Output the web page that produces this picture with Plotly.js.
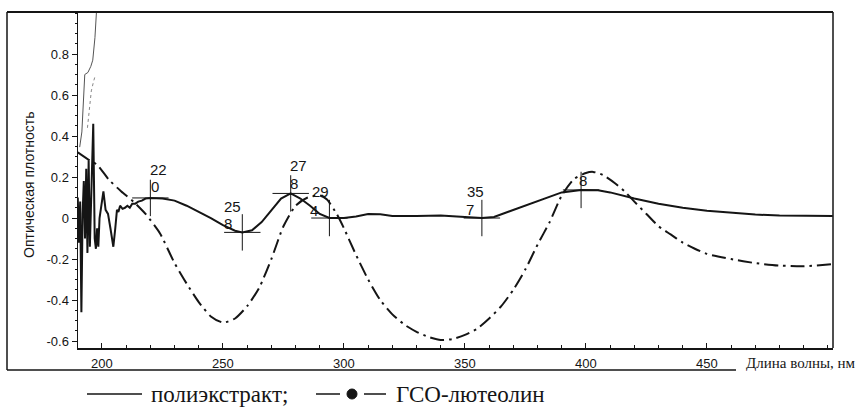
<!DOCTYPE html>
<html>
<head>
<meta charset="utf-8">
<script src="https://cdn.plot.ly/plotly-3.0.1.min.js"></script>
<style>
  html, body { margin: 0; padding: 0; background: #fff; }
  #chart { width: 861px; height: 410px; }
</style>
</head>
<body>
<div id="chart"></div>
<script>
// Differential spectrum of the polyextract (wavelength, nm / optical density)
const extractWl = [190, 190.5, 191, 191.5, 192, 192.5, 193, 193.5, 194, 194.5, 195, 195.5, 196, 196.4, 197, 197.5,
  198, 198.5, 199, 200, 200.6, 201.5, 202.5, 203.5, 204.2, 204.7, 205.5, 206.2, 206.8, 207.5, 208.5, 209.5, 210.5,
  211.5, 212.5, 213.8, 215, 216.5, 218, 220, 225, 230, 235, 240, 245, 250, 255, 258, 262, 266, 270, 274, 278, 282,
  286, 290, 294, 300, 305, 310, 315, 320, 330, 340, 350, 357, 362, 370, 380, 390, 398, 405, 410, 420, 430, 440,
  450, 460, 470, 480, 490, 502];
const extractOd = [0.10, -0.12, 0.08, -0.46, 0.02, 0.18, -0.10, 0.24, -0.17, 0.28, -0.14, 0.10, 0.40, 0.46, -0.10, -0.15,
  -0.05, -0.14, 0.0, 0.09, 0.13, 0.04, 0.02, -0.05, -0.10, -0.14, -0.05, 0.04, 0.03, 0.06, 0.045, 0.05, 0.06,
  0.05, 0.07, 0.07, 0.08, 0.085, 0.095, 0.098, 0.095, 0.085, 0.06, 0.03, 0.0, -0.035, -0.062, -0.07, -0.06, -0.02,
  0.04, 0.095, 0.12, 0.095, 0.06, 0.02, 0.0, 0.0, 0.008, 0.02, 0.018, 0.01, 0.01, 0.012, 0.005, 0.0, 0.005, 0.04,
  0.085, 0.125, 0.137, 0.135, 0.125, 0.095, 0.07, 0.05, 0.035, 0.025, 0.017, 0.012, 0.01, 0.01];

// Reference standard (ГСО-лютеолин)
const luteolinWl = [190, 195, 198, 203, 208, 213, 218, 224, 230, 235, 240, 245, 250, 255, 260, 265, 270, 275, 280,
  285, 290, 293, 297, 300, 305, 310, 315, 320, 325, 330, 335, 340, 345, 350, 355, 360, 365, 370, 375, 380, 385,
  390, 395, 400, 403, 407, 412, 416, 420, 425, 430, 435, 440, 445, 450, 460, 470, 480, 490, 502];
const luteolinOd = [0.32, 0.28, 0.26, 0.185, 0.13, 0.08, 0.02, -0.075, -0.22, -0.32, -0.41, -0.48, -0.51, -0.49,
  -0.43, -0.34, -0.20, -0.04, 0.06, 0.10, 0.11, 0.09, 0.02, -0.05, -0.18, -0.30, -0.40, -0.47, -0.52, -0.555, -0.58,
  -0.595, -0.59, -0.57, -0.54, -0.49, -0.43, -0.35, -0.25, -0.13, -0.02, 0.11, 0.19, 0.22, 0.225, 0.21, 0.17, 0.13,
  0.08, 0.02, -0.04, -0.08, -0.12, -0.15, -0.175, -0.20, -0.22, -0.232, -0.235, -0.225];

// Far-UV overflow of the recorder trace
const overflowWl = [190.8, 191.7, 192.9, 194.2, 195.4, 196.2, 197.1, 197.8];
const overflowOd = [0.346, 0.42, 0.70, 0.71, 0.74, 0.77, 0.88, 1.02];
const overflow2Wl = [194.0, 194.8, 195.6, 196.4, 197.1];
const overflow2Od = [0.44, 0.55, 0.62, 0.66, 0.69];

// Labelled extrema of the polyextract curve
const peakWl = [220, 258, 278, 294, 357, 398];
const peakOd = [0.098, -0.07, 0.12, 0.0, 0.0, 0.137];
const peakTop = ['22', '25', '27', '29', '35', ''];
const peakBottom = ['0', '8', '8', '4', '7', '8'];

// Axis ticks
const xTicks = [200, 250, 300, 350, 400, 450];
const xTickText = ['200', '250', '300', '350', '400', '450'];
const yTicks = [-0.6, -0.4, -0.2, 0, 0.2, 0.4, 0.6, 0.8];
const yTickText = ['-0.6', '-0.4', '-0.2', '0', '0.2', '0.4', '0.6', '0.8'];

const seriesNames = ['полиэкстракт;', 'ГСО-лютеолин'];
const yTitle = 'Оптическая плотность';
const xTitle = 'Длина волны, нм';

// ---- geometry helpers (pixel -> paper) ----
const W = 861, H = 410;
const M = { l: 78, r: 28, t: 12, b: 62 };
const PW = W - M.l - M.r, PH = H - M.t - M.b;
const px = v => (v - M.l) / PW;
const py = v => (H - M.b - v) / PH;

const INK = '#151515';
const sans = 'Liberation Sans, Arial, sans-serif';
const serif = 'Liberation Serif, Times New Roman, serif';

// label offsets (pixels) relative to each cross mark
const topShift = [[8, 28], [-10, 26], [8, 28], [-9, 27], [-6, 27], [0, 0]];
const bottomShift = [[5, 11], [-14, 9], [3, 10], [-15, 8], [-12, 9], [2, 9]];

const traces = [
  { x: overflowWl, y: overflowOd, mode: 'lines', line: { color: '#555', width: 1 }, hoverinfo: 'skip', showlegend: false },
  { x: overflow2Wl, y: overflow2Od, mode: 'lines', line: { color: '#888', width: 1, dash: 'dot' }, hoverinfo: 'skip', showlegend: false },
  { x: luteolinWl, y: luteolinOd, mode: 'lines', name: seriesNames[1],
    line: { color: INK, width: 2, dash: '14px,5px,2.5px,5px', shape: 'spline', smoothing: 0.6 }, showlegend: false },
  { x: extractWl, y: extractOd, mode: 'lines', name: seriesNames[0],
    line: { color: INK, width: 2 }, showlegend: false },
  { x: peakWl, y: peakOd, mode: 'markers', hoverinfo: 'skip', showlegend: false,
    marker: { symbol: 'cross-thin', size: 26, color: INK, line: { color: INK, width: 1 } } }
];

const annotations = [];
peakWl.forEach((wl, i) => {
  if (peakTop[i]) {
    annotations.push({ x: wl, y: peakOd[i], xref: 'x', yref: 'y', text: peakTop[i], showarrow: false,
      xshift: topShift[i][0], yshift: topShift[i][1], font: { family: sans, size: 15, color: INK } });
  }
  annotations.push({ x: wl, y: peakOd[i], xref: 'x', yref: 'y', text: peakBottom[i], showarrow: false,
    xshift: bottomShift[i][0], yshift: bottomShift[i][1], font: { family: sans, size: 15, color: INK } });
});

annotations.push(
  { xref: 'paper', yref: 'paper', x: px(29), y: py(185), xanchor: 'center', yanchor: 'middle',
    text: yTitle, textangle: -90, showarrow: false, font: { family: sans, size: 14, color: INK } },
  { xref: 'paper', yref: 'paper', x: px(744), y: py(363), xanchor: 'left', yanchor: 'middle',
    text: xTitle, showarrow: false, font: { family: serif, size: 15, color: INK } },
  { xref: 'paper', yref: 'paper', x: px(150), y: py(394), xanchor: 'left', yanchor: 'middle', borderpad: 0,
    text: seriesNames[0], showarrow: false, font: { family: serif, size: 23, color: INK } },
  { xref: 'paper', yref: 'paper', x: px(395), y: py(394), xanchor: 'left', yanchor: 'middle', borderpad: 0,
    text: seriesNames[1], showarrow: false, font: { family: serif, size: 23, color: INK } }
);

const frameLine = (x0, y0, x1, y1, w) => ({ type: 'line', xref: 'paper', yref: 'paper',
  x0: px(x0), y0: py(y0), x1: px(x1), y1: py(y1), line: { color: INK, width: w } });

const shapes = [
  frameLine(7, 12, 833, 12, 2),
  frameLine(7, 12, 7, 370, 1.5),
  frameLine(7, 370, 736, 370, 1.5),
  frameLine(833, 12, 833, 348, 1.5),
  // legend samples
  frameLine(87, 394, 142, 394, 1.5),
  frameLine(316, 394, 340, 394, 1.5),
  frameLine(364, 394, 386, 394, 1.5),
  { type: 'circle', xref: 'paper', yref: 'paper', x0: px(347), x1: px(357), y0: py(389), y1: py(399),
    fillcolor: INK, line: { color: INK, width: 1 } }
];

const layout = {
  width: W, height: H,
  margin: M,
  paper_bgcolor: '#fff', plot_bgcolor: '#fff',
  showlegend: false,
  xaxis: {
    range: [190.1, 502.1], tickmode: 'array', tickvals: xTicks, ticktext: xTickText,
    ticks: 'inside', ticklen: 5, tickwidth: 1, tickcolor: INK, ticklabelstandoff: 3,
    showline: true, linecolor: INK, linewidth: 1.5, showgrid: false, zeroline: false,
    tickfont: { family: sans, size: 13, color: INK },
    minor: { tickmode: 'linear', tick0: 0, dtick: 10, ticks: 'inside', ticklen: 3, tickcolor: INK, showgrid: false }
  },
  yaxis: {
    range: [-0.634, 1.005], tickmode: 'array', tickvals: yTicks, ticktext: yTickText,
    ticks: 'outside', ticklen: 5, tickwidth: 1, tickcolor: INK,
    showline: true, linecolor: INK, linewidth: 1.5, showgrid: false, zeroline: false,
    tickfont: { family: sans, size: 13, color: INK },
    minor: { tickmode: 'linear', tick0: 0, dtick: 0.05, ticks: 'outside', ticklen: 2, tickcolor: INK, showgrid: false }
  },
  annotations: annotations,
  shapes: shapes
};

Plotly.newPlot('chart', traces, layout, { displayModeBar: false, staticPlot: true });
</script>
</body>
</html>
